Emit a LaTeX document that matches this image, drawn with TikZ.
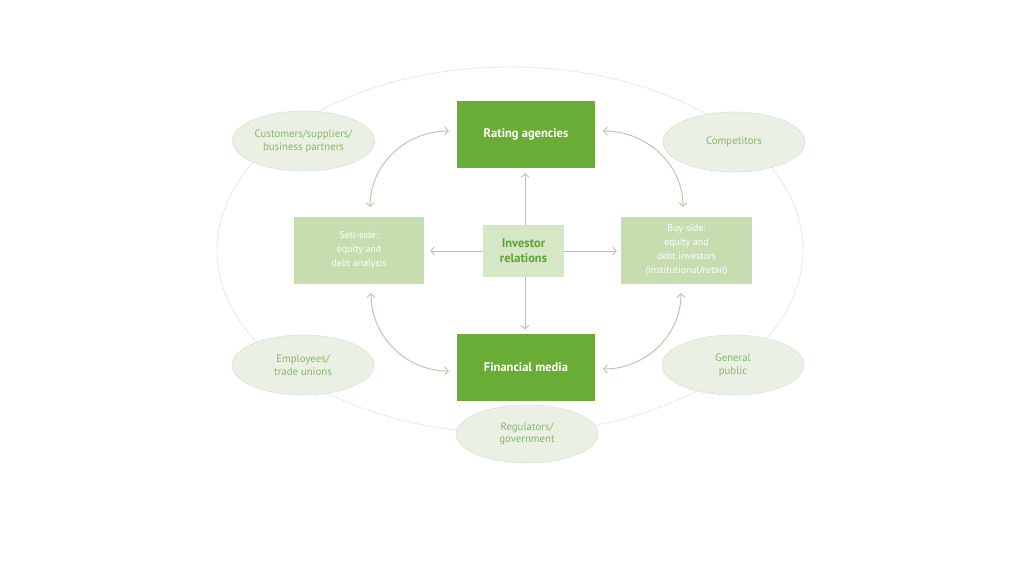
\documentclass[tikz,border=0pt]{standalone}
\usepackage{fontspec}
\setmainfont{PT Sans}
\usetikzlibrary{shapes.geometric,arrows.meta}
\definecolor{darkg}{HTML}{69AD36}
\definecolor{lightbox}{HTML}{C6DDB0}
\definecolor{irbox}{HTML}{D6E7C6}
\definecolor{irtext}{HTML}{5CA430}
\definecolor{ellfill}{HTML}{EBF0E4}
\definecolor{ellline}{HTML}{CCD9C0}
\definecolor{elltext}{HTML}{86B765}
\definecolor{arrcol}{HTML}{B3C6A4}
\definecolor{bigline}{HTML}{D8DBD2}
\begin{document}
\begin{tikzpicture}[x=1pt,y=-1pt,
  darkbox/.style={rectangle,fill=darkg,text=white,font=\bfseries\fontsize{12.5}{15}\selectfont,
    minimum width=138pt,minimum height=67pt,inner sep=0pt,align=center},
  litebox/.style={rectangle,fill=lightbox,text=white,font=\fontsize{9.8}{14}\selectfont,
    minimum width=130pt,minimum height=67pt,inner sep=0pt,align=center},
  irstyle/.style={rectangle,fill=irbox,text=irtext,font=\bfseries\fontsize{12.5}{15}\selectfont,
    minimum width=81pt,minimum height=52pt,inner sep=0pt,align=center},
  party/.style={ellipse,fill=ellfill,draw=ellline,densely dotted,line width=0.8pt,text=elltext,
    font=\fontsize{10.8}{12.5}\selectfont,minimum width=142pt,minimum height=60pt,inner sep=0pt,align=center},
  arr/.style={draw=arrcol,line width=0.9pt,-{Straight Barb[length=3.5pt,width=8pt]}},
  darr/.style={draw=arrcol,line width=0.9pt,{Straight Barb[length=3.5pt,width=8pt]}-{Straight Barb[length=3.5pt,width=8pt]}},
  bigell/.style={draw=bigline,densely dotted,line width=0.9pt}
]
\useasboundingbox (0,0) rectangle (1024,576);
\fill[white] (0,0) rectangle (1024,576);
% outer ring
\draw[bigell] (510,250) ellipse [x radius=293, y radius=183];
% stakeholders
\node[party] (cust) at (303.5,141) {Customers/suppliers/\\business partners};
\node[party] (comp) at (734,142) {Competitors};
\node[party] (empl) at (303,365) {Employees/\\trade unions};
\node[party] (gen) at (733,365) {General\\public};
\node[party,minimum height=58pt] (reg) at (527,434) {Regulators/\\government};
% boxes
\node[darkbox] (ra) at (526,134.5) {Rating agencies};
\node[darkbox] (fm) at (526,367) {Financial media};
\node[litebox] (sell) at (359,250.5) {Sell-side:\\equity and\\debt analysis};
\node[litebox,minimum width=131pt] (buy) at (686.5,250.5) {Buy-side:\\equity and\\debt investors\\(institutional/retail)};
\node[irstyle] (ir) at (523.5,251) {Investor\\relations};
% straight arrows
\draw[arr,shorten >=5pt] ([xshift=1.5pt]ir.north) -- ([xshift=1.5pt]ir.north |- ra.south);
\draw[arr,shorten >=4pt] ([xshift=1.5pt]ir.south) -- ([xshift=1.5pt]ir.south |- fm.north);
\draw[arr,shorten >=6pt] (ir.west) -- (ir.west -| sell.east);
\draw[arr,shorten >=4pt] (ir.east) -- (ir.east -| buy.west);
% curved double arrows
\draw[darr] ([xshift=11pt,yshift=10pt]sell.north) to[out=90,in=180] ([xshift=-8pt,yshift=3.5pt]ra.west);
\draw[darr] ([xshift=8pt,yshift=3.5pt]ra.east) to[out=0,in=90] ([xshift=-3.5pt,yshift=10pt]buy.north);
\draw[darr] ([xshift=12pt,yshift=-9pt]sell.south) to[out=-90,in=180] ([xshift=-8pt,yshift=-4pt]fm.west);
\draw[darr] ([xshift=8pt,yshift=-2pt]fm.east) to[out=0,in=-90] ([xshift=-5.5pt,yshift=-9pt]buy.south);
\end{tikzpicture}
\end{document}
